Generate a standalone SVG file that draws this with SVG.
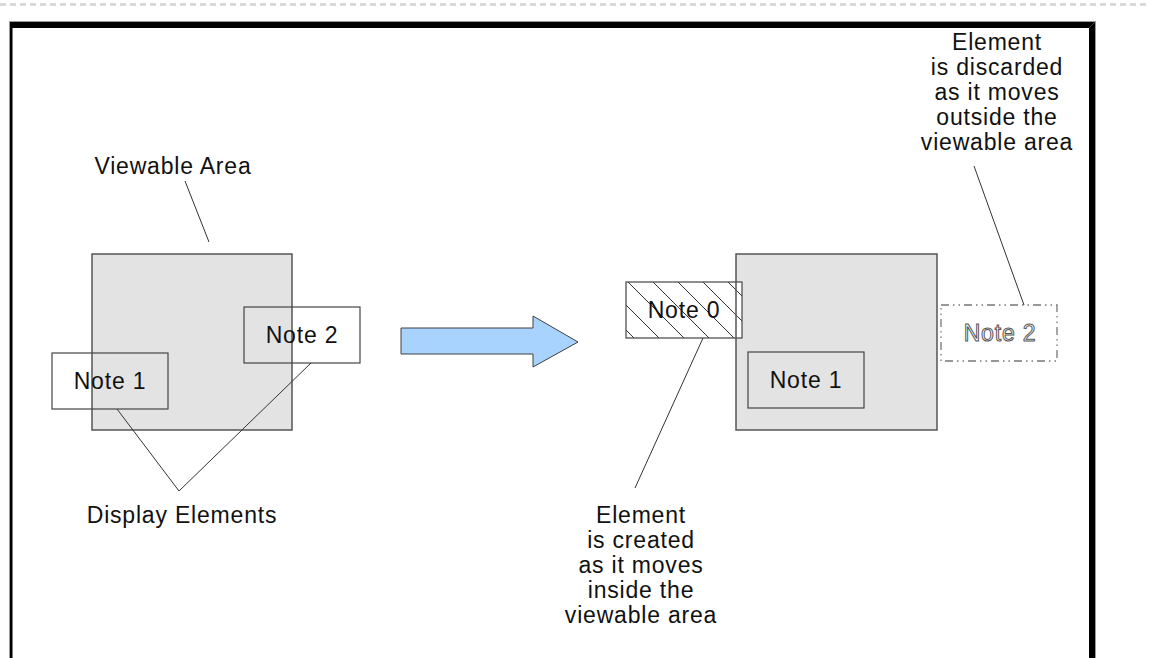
<svg xmlns="http://www.w3.org/2000/svg" width="1149" height="658" viewBox="0 0 1149 658">
  <defs>
    <style>
      .lbl { font-family: "Liberation Sans", Arial, sans-serif; font-size: 23px; letter-spacing: 0.8px; fill: #111; text-anchor: middle; }
      .ghost { fill: #fff; stroke: #555; stroke-width: 1px; }
      .area { fill: #e3e3e3; stroke: none; }
      .area-edge { fill: none; stroke: #555; stroke-width: 1.5; }
      .note { fill: none; stroke: #444; stroke-width: 1.2; }
      .note-filled { fill: #e3e3e3; stroke: #444; stroke-width: 1.2; }
      .lead { fill: none; stroke: #333; stroke-width: 1; }
      .dashed-note { fill: none; stroke: #777; stroke-width: 1.3; stroke-dasharray: 8 4 1.5 4 1.5 4; }
    </style>
    <pattern id="hatch" patternUnits="userSpaceOnUse" x="21" y="0" width="25" height="25">
      <path d="M0,0 L25,25 M-2,23 L2,27 M23,-2 L27,2" stroke="#333" stroke-width="1" fill="none"/>
    </pattern>
  </defs>

  <!-- page background -->
  <rect x="0" y="0" width="1149" height="658" fill="#fff"/>
  <!-- dashed ruler along the top -->
  <line x1="0" y1="4.5" x2="1149" y2="4.5" stroke="#d4d4d4" stroke-width="2.5" stroke-dasharray="6 4"/>

  <!-- picture frame -->
  <g id="frame">
    <rect x="9.5" y="21.5" width="1086" height="700" fill="none" stroke="#999" stroke-width="1"/>
    <polygon points="10,22 1095,22 1089,28 12,28" fill="#000"/>
    <rect x="10" y="22" width="2.5" height="640" fill="#000"/>
    <polygon points="1095,22 1095,658 1089,658 1089,28" fill="#000"/>
  </g>

  <!-- before: viewable area with two notes -->
  <g id="area-before">
    <rect class="area" x="92" y="254" width="200" height="176"/>
    <rect class="area-edge" x="92" y="254" width="200" height="176"/>
  </g>
  <g id="note1-before">
    <rect class="note" x="52" y="353" width="116" height="56"/>
    <text class="lbl" x="110" y="389">Note 1</text>
  </g>
  <g id="note2-before">
    <rect class="note" x="244" y="307" width="116" height="56"/>
    <text class="lbl" x="302" y="343">Note 2</text>
  </g>
  <g id="label-viewable">
    <text class="lbl" x="173" y="174">Viewable Area</text>
  </g>
  <g id="label-display">
    <text class="lbl" x="182" y="523">Display Elements</text>
  </g>

  <!-- transition arrow -->
  <g id="move-arrow">
    <polygon points="401,328 533,328 533,316 578,342 533,367 533,354 401,354" fill="#a8d3fe" stroke="#404040" stroke-width="1"/>
  </g>

  <!-- after: viewable area, created and discarded notes -->
  <g id="area-after">
    <rect class="area" x="736" y="254" width="201" height="176"/>
  </g>
  <g id="note0-after">
    <rect x="626" y="282" width="116" height="56" fill="#fff"/>
    <rect x="626" y="282" width="116" height="56" fill="url(#hatch)" stroke="#444" stroke-width="1.2"/>
    <text class="lbl" x="684" y="318">Note 0</text>
  </g>
  <g id="area-after-edge">
    <rect class="area-edge" x="736" y="254" width="201" height="176"/>
  </g>
  <g id="note1-after">
    <rect class="note-filled" x="748" y="352" width="116" height="56"/>
    <text class="lbl" x="806" y="388">Note 1</text>
  </g>
  <g id="note2-after">
    <rect class="dashed-note" x="941" y="305" width="116" height="56"/>
    <text class="lbl ghost" x="1000" y="341">Note 2</text>
  </g>
  <g id="label-created">
    <text class="lbl" x="641" y="523">Element</text>
    <text class="lbl" x="641" y="548">is created</text>
    <text class="lbl" x="641" y="573">as it moves</text>
    <text class="lbl" x="641" y="598">inside the</text>
    <text class="lbl" x="641" y="623">viewable area</text>
  </g>
  <g id="label-discarded">
    <text class="lbl" x="997" y="50">Element</text>
    <text class="lbl" x="997" y="75">is discarded</text>
    <text class="lbl" x="997" y="100">as it moves</text>
    <text class="lbl" x="997" y="125">outside the</text>
    <text class="lbl" x="997" y="150">viewable area</text>
  </g>

  <!-- leader lines -->
  <g id="connectors">
    <line class="lead" x1="185" y1="181" x2="209" y2="242"/>
    <polyline class="lead" points="117,409 179,491 311,363"/>
    <line class="lead" x1="703" y1="338" x2="635" y2="488"/>
    <line class="lead" x1="974" y1="166" x2="1024" y2="305"/>
  </g>
</svg>
